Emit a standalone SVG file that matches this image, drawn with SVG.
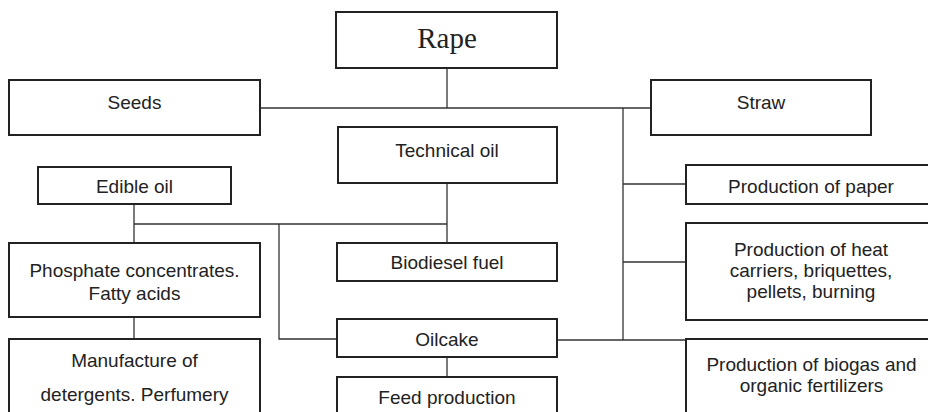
<svg xmlns="http://www.w3.org/2000/svg" width="928" height="412" viewBox="0 0 928 412">
<style>
.box{fill:#fff;stroke:#222;stroke-width:2}
.ln{fill:none;stroke:#333;stroke-width:1.3}
text{font-family:"Liberation Sans",Arial,sans-serif;font-size:19px;fill:#222;text-anchor:middle}
.serif{font-family:"Liberation Serif","Times New Roman",serif;font-size:29px}
</style>
<rect width="928" height="412" fill="#fff"/>
<g id="connectors">
<path class="ln" d="M447 68V108M260 108H651M623 108V340M623 184H686M623 262H686M557 340H686"/>
<path class="ln" d="M447 183V243M134 224H447M134 204V243M134 317V339M279 224V339H337M447 357V377"/>
</g>
<g id="rape"><rect class="box" x="336" y="12" width="221" height="56"/><text class="serif" x="447" y="47.5">Rape</text></g>
<g id="seeds"><rect class="box" x="9" y="80" width="251" height="55"/><text x="134.5" y="108.5">Seeds</text></g>
<g id="straw"><rect class="box" x="651" y="80" width="220" height="55"/><text x="761" y="108.5">Straw</text></g>
<g id="technical-oil"><rect class="box" x="338" y="127" width="219" height="56"/><text x="447" y="156.5">Technical oil</text></g>
<g id="edible-oil"><rect class="box" x="38" y="167" width="193" height="37"/><text x="134.5" y="193">Edible oil</text></g>
<g id="paper"><rect class="box" x="686" y="165" width="260" height="39"/><text x="811" y="192.7">Production of paper</text></g>
<g id="heat"><rect class="box" x="686" y="223" width="260" height="97"/><text x="811" y="256">Production of heat</text><text x="811" y="277">carriers, briquettes,</text><text x="811" y="298">pellets, burning</text></g>
<g id="phosphate"><rect class="box" x="9" y="243" width="251" height="74"/><text x="134.5" y="277">Phosphate concentrates.</text><text x="134.5" y="300">Fatty acids</text></g>
<g id="biodiesel"><rect class="box" x="337" y="243" width="220" height="38"/><text x="447" y="269">Biodiesel fuel</text></g>
<g id="oilcake"><rect class="box" x="337" y="319" width="220" height="38"/><text x="447" y="346">Oilcake</text></g>
<g id="manufacture"><rect class="box" x="9" y="339" width="251" height="90"/><text x="134.5" y="366.5">Manufacture of</text><text x="134.5" y="400.5">detergents. Perfumery</text></g>
<g id="feed"><rect class="box" x="337" y="377" width="220" height="50"/><text x="447" y="403.5">Feed production</text></g>
<g id="biogas"><rect class="box" x="686" y="339" width="260" height="90"/><text x="811.5" y="371">Production of biogas and</text><text x="811.5" y="392">organic fertilizers</text></g>
</svg>
